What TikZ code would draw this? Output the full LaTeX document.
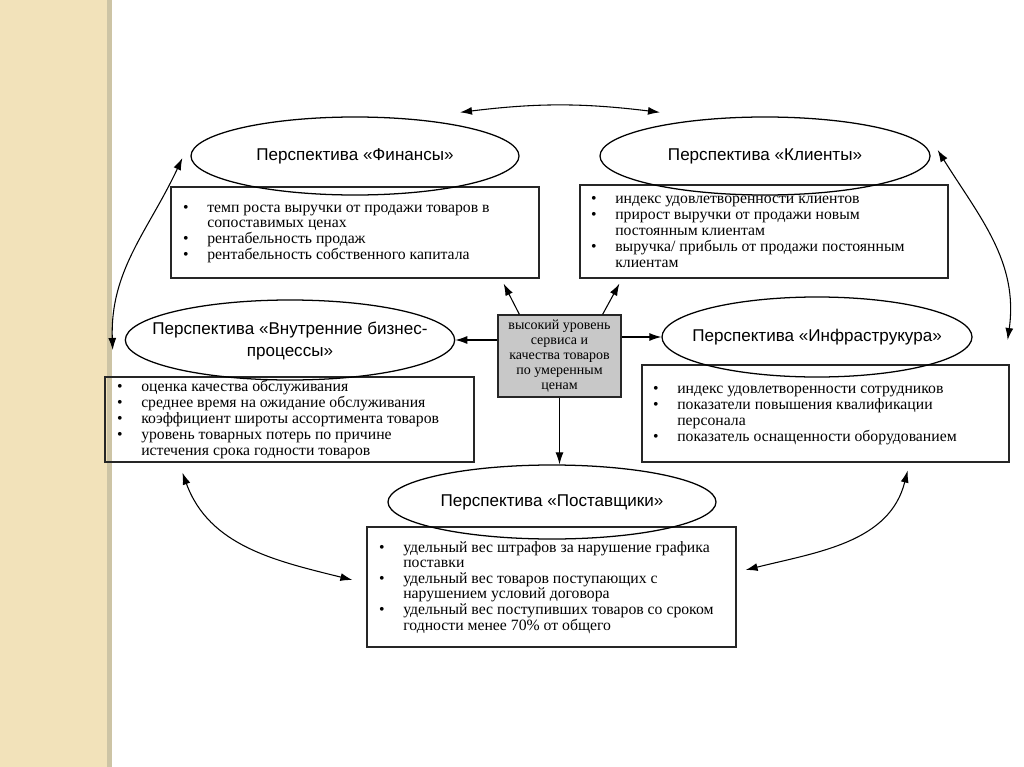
\documentclass[tikz,border=0pt]{standalone}
\usepackage{fontspec}
\setmainfont{Liberation Serif}
\newfontfamily\arialf{Liberation Sans}
\usetikzlibrary{arrows.meta,shapes.geometric,calc}
\definecolor{beige}{RGB}{242,226,186}
\definecolor{beigeedge}{RGB}{205,196,165}
\definecolor{cgray}{RGB}{200,200,200}
\newcommand{\bl}{\llap{\textbullet\hspace{14pt}}}
\begin{document}
\begin{tikzpicture}[x=0.75pt,y=-0.75pt,
  ell/.style={draw=black, ellipse, line width=0.95pt, inner sep=0pt},
  etext/.style={inner sep=0pt, align=center, font=\arialf\fontsize{12.8}{16.5}\selectfont},
  ibox/.style={draw=black!85, rectangle, line width=0.9pt, inner sep=0pt},
  btext/.style={anchor=base west, inner sep=0pt},
  arr/.style={line width=0.8pt, -{Latex[length=9pt,width=6pt]}},
  darr/.style={line width=0.8pt, {Latex[length=9pt,width=6pt]}-{Latex[length=9pt,width=6pt]}}]
\useasboundingbox (0,0) rectangle (1024,767);
\fill[white] (0,0) rectangle (1024,767);
\fill[beige] (0,0) rectangle (108,767);
\fill[beigeedge] (107,0) rectangle (112,767);

% boxes
\node[ibox, minimum width=276pt, minimum height=68.25pt] (fb) at (355,232.5) {};
\node[ibox, minimum width=276pt, minimum height=69.75pt] (kb) at (764,231.5) {};
\node[ibox, minimum width=276.75pt, minimum height=63.75pt] (ib) at (289.5,419.5) {};
\node[ibox, minimum width=275.25pt, minimum height=72.75pt] (rb) at (825.5,413.5) {};
\node[ibox, minimum width=276.75pt, minimum height=90pt] (sb) at (551.5,587) {};
\node[ibox, fill=cgray, minimum width=92.25pt, minimum height=61.5pt, align=center,
  font=\fontsize{10.5}{11.2}\selectfont] (cb) at (559.5,356)
  {высокий уровень\\сервиса и\\качества товаров\\по умеренным\\ценам};

% ellipses
\node[ell, minimum width=246pt, minimum height=58.5pt] (fe) at (355,156) {};
\node[ell, minimum width=247.5pt, minimum height=58.5pt] (ke) at (765,156) {};
\node[ell, minimum width=247pt, minimum height=60pt] (ie) at (290,340) {};
\node[ell, minimum width=232.5pt, minimum height=60pt] (re) at (817,337) {};
\node[ell, minimum width=246pt, minimum height=55.5pt] (se) at (552,502) {};
\node[etext] (fel) at (fe) {Перспектива «Финансы»};
\node[etext] (kel) at (ke) {Перспектива «Клиенты»};
\node[etext] (iel) at ($(ie)+(0,1)$) {Перспектива «Внутренние бизнес-\\процессы»};
\node[etext] (rel) at (re) {Перспектива «Инфраструкура»};
\node[etext] (sel) at (se) {Перспектива «Поставщики»};

% box texts
\node[btext] (ft) at (207,212) {\fontsize{11.8}{11.6}\selectfont\begin{tabular}[t]{@{}l@{}}
\bl темп роста выручки от продажи товаров в\\
сопоставимых ценах\\
\bl рентабельность продаж\\
\bl рентабельность собственного капитала
\end{tabular}};
\node[btext] (kt) at (615,203) {\fontsize{11.8}{12}\selectfont\begin{tabular}[t]{@{}l@{}}
\bl индекс удовлетворенности клиентов\\
\bl прирост выручки от продажи новым\\
постоянным клиентам\\
\bl выручка/ прибыль от продажи постоянным\\
клиентам
\end{tabular}};
\node[btext] (it) at (141,391) {\fontsize{11.8}{12}\selectfont\begin{tabular}[t]{@{}l@{}}
\bl оценка качества обслуживания\\
\bl среднее время на ожидание обслуживания\\
\bl коэффициент широты ассортимента товаров\\
\bl уровень товарных потерь по причине\\
истечения срока годности товаров
\end{tabular}};
\node[btext] (rt) at (677,393) {\fontsize{11.8}{12}\selectfont\begin{tabular}[t]{@{}l@{}}
\bl индекс удовлетворенности сотрудников\\
\bl показатели повышения квалификации\\
персонала\\
\bl показатель оснащенности оборудованием
\end{tabular}};
\node[btext] (st) at (403,552) {\fontsize{11.8}{11.7}\selectfont\begin{tabular}[t]{@{}l@{}}
\bl удельный вес штрафов за нарушение графика\\
поставки\\
\bl удельный вес товаров поступающих с\\
нарушением условий договора\\
\bl удельный вес поступивших товаров со сроком\\
годности менее 70\% от общего
\end{tabular}};

% center connectors
\draw[arr] ($(cb.north west)+(22,0)$) -- ($(fb.south east)+(-36,5)$);
\draw[arr] ($(cb.north east)+(-19,0)$) -- ($(kb.south west)+(40,5)$);
\draw[arr] (cb.west |- ie.east) -- (ie.east);
\draw[arr] (cb.east |- re.west) -- (re.west);
\draw[line width=0.8pt] ($(cb.east)+(0,25)$) -- ($(cb.east)+(0,25)$ -| rb.west);
\draw[arr] (cb.south) -- (cb.south |- se.north);

% curved double arrows
\draw[darr] ($(fe.north)+(105,-4)$) to[bend left=7] ($(ke.north)+(-105,-4)$);
\draw[darr] ($(fe.west)+(-8,2)$) to[out=245,in=92] ($(ie.west)+(-12,10)$);
\draw[darr] ($(ke.east)+(7,-6)$) to[out=-58,in=82] ($(re.east)+(35,3)$);
\draw[darr] ($(ib.south west)+(78,10)$) to[out=-70,in=166] ($(sb.west)+(-14,-7)$);
\draw[darr] ($(rb.south east)+(-102,8)$) to[out=256,in=14] ($(sb.east)+(9,-17)$);
\end{tikzpicture}
\end{document}
